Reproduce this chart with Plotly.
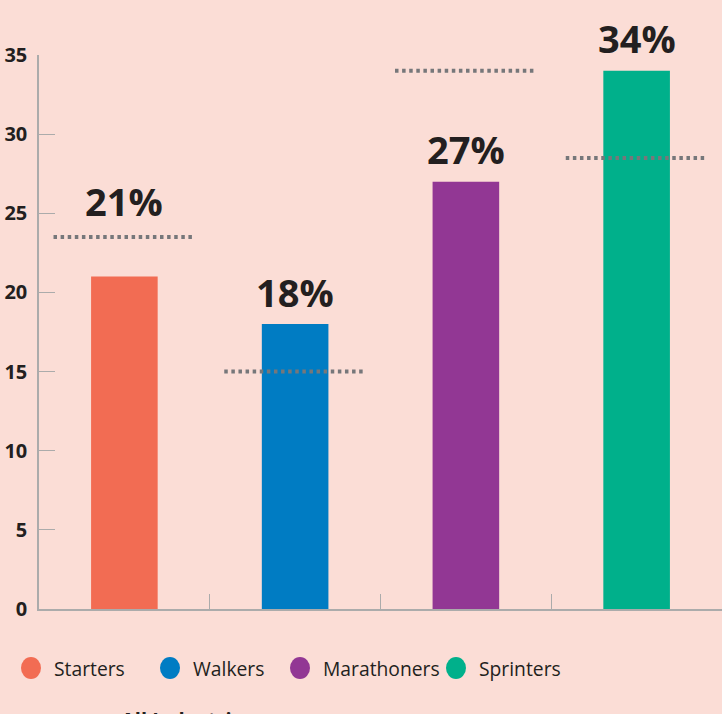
import plotly.graph_objects as go

# data
segments = ["Starters", "Walkers", "Marathoners", "Sprinters"]
share = [21, 18, 27, 34]
all_industries = [23.5, 15, 34, 28.5]
labels = ["21%", "18%", "27%", "34%"]
y_ticks = [0, 5, 10, 15, 20, 25, 30, 35]

colors = ["#F26C53", "#007CC3", "#923794", "#00B08B"]
bg = "#FBDDD6"
font = "Open Sans"
label_shift = [76, 32, 33, 33]

W, H = 722, 714
ML, MT, MB = 39, 55, 105
PW, PH = W - ML, H - MT - MB


def px_x(p):
    return (p - ML) / PW


def px_y(p):
    return (H - MB - p) / PH


fig = go.Figure()

xs = list(range(len(segments)))
fig.add_trace(go.Bar(
    x=xs, y=share, width=0.39,
    marker=dict(color=colors, line=dict(width=0)),
    showlegend=False, hoverinfo="skip",
))

# benchmark dotted lines
for i, b in enumerate(all_industries):
    fig.add_trace(go.Scatter(
        x=[i - 0.415, i + 0.415], y=[b, b], mode="lines",
        line=dict(color="#76777A", width=4, dash="3.5px,3.6px"),
        showlegend=False, hoverinfo="skip",
    ))

for i, (v, t) in enumerate(zip(share, labels)):
    fig.add_annotation(
        x=i, y=v, text="<b>%s</b>" % t, showarrow=False,
        yshift=label_shift[i], yanchor="middle",
        font=dict(family=font, size=38, color="#231F20"),
    )

# legend drawn by hand (round swatches)
legend_dot_x = [31, 170, 300, 456]
legend_y = 668
for name, c, lx in zip(segments, colors, legend_dot_x):
    fig.add_shape(
        type="circle", xref="paper", yref="paper",
        xsizemode="pixel", ysizemode="pixel",
        xanchor=px_x(lx), yanchor=px_y(legend_y),
        x0=-10, x1=10, y0=-11, y1=11,
        fillcolor=c, line=dict(width=0),
    )
    fig.add_annotation(
        x=px_x(lx + 21), y=px_y(legend_y), xref="paper", yref="paper",
        xanchor="left", yanchor="middle", showarrow=False, text=name,
        font=dict(family=font, size=19.3, color="#231F20"),
    )

fig.add_annotation(
    x=px_x(119), y=px_y(704), xref="paper", yref="paper",
    xanchor="left", yanchor="top", showarrow=False,
    text="<b>All Industries</b>",
    font=dict(family=font, size=20, color="#231F20"),
)

fig.update_layout(
    width=W, height=H,
    margin=dict(l=ML, r=0, t=MT, b=MB),
    paper_bgcolor=bg, plot_bgcolor=bg,
    font=dict(family=font, color="#231F20"),
    bargap=0.61, showlegend=False,
    xaxis=dict(
        range=[-0.5, 3.5], tickvals=[0.5, 1.5, 2.5, 3.5], showticklabels=False,
        ticks="inside", ticklen=15, tickcolor="#ABABAB", tickwidth=1,
        showline=True, linecolor="#ABABAB", linewidth=1.5,
        showgrid=False, zeroline=False,
    ),
    yaxis=dict(
        range=[0, 35], tickvals=y_ticks,
        ticks="inside", ticklen=16, tickcolor="#ABABAB", tickwidth=1,
        showline=True, linecolor="#ABABAB", linewidth=1.5,
        showgrid=False, zeroline=False,
        tickfont=dict(family=font, size=20, color="#231F20", weight="bold"),
        ticklabelstandoff=6,
    ),
)

fig.write_html("out.html", config={"displayModeBar": False},
               post_script="document.body.style.margin='0';")
